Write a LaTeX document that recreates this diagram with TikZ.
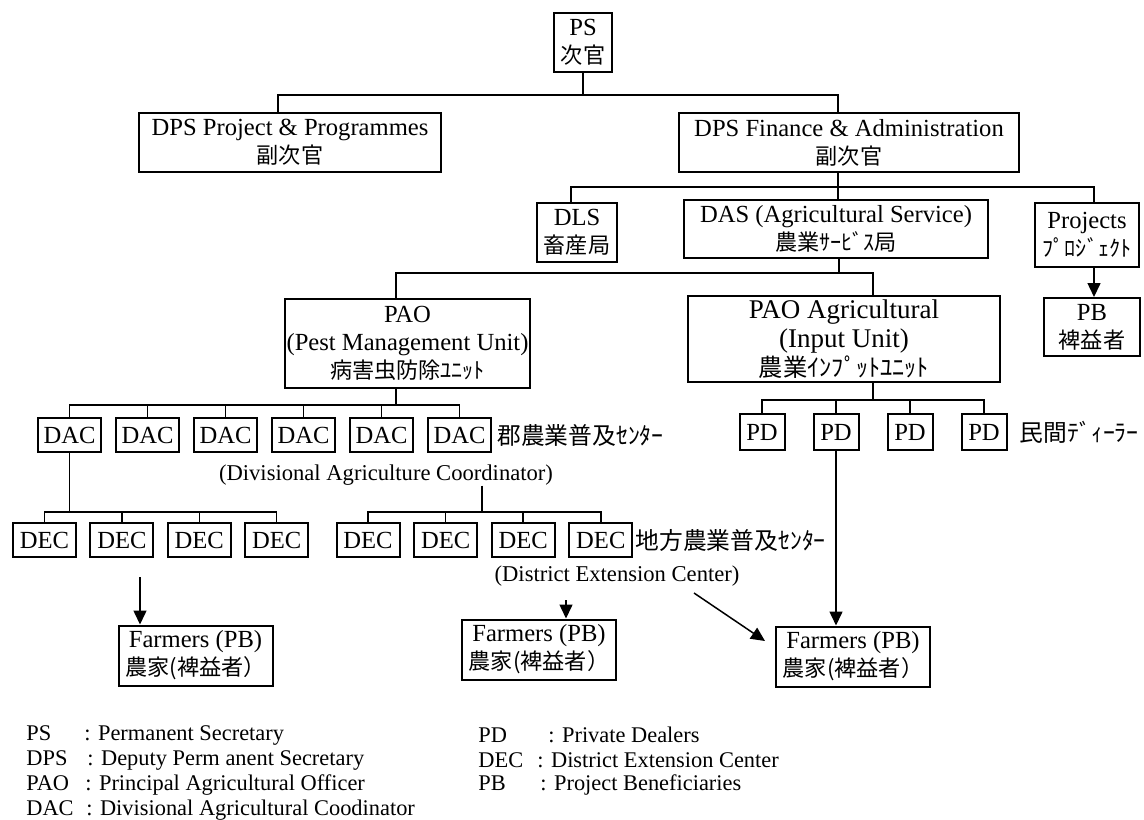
\documentclass[tikz,border=0pt]{standalone}
\usepackage{fontspec}
\setmainfont{Liberation Serif}
\newfontfamily\jp{Noto Sans CJK JP}[Scale=0.9]
\usetikzlibrary{arrows.meta,positioning}
\newcommand{\ja}[1]{{\jp #1}}
\newcommand{\boxfont}{\fontsize{12.3}{14}\selectfont}
\newcommand{\bigboxfont}{\fontsize{13.5}{14.5}\selectfont}
\newcommand{\notefont}{\fontsize{11.3}{13}\selectfont}
\newcommand{\tagfont}{\fontsize{13.2}{15}\selectfont}
\newcommand{\keyfont}{\fontsize{11.2}{12}\selectfont}
\newcommand{\keyname}[2][29pt]{\makebox[#1][l]{#2}}
\tikzset{
  >={Triangle[length=7pt,width=6.5pt]},
  every node/.style={text=black},
  box/.style={draw,line width=1pt,align=center,inner sep=1pt,font=\boxfont},
  unitbox/.style={box,minimum width=31.5pt,minimum height=17pt},
  dealerbox/.style={box,minimum width=22.5pt,minimum height=18pt},
  farmbox/.style={box,minimum width=77pt,minimum height=30pt},
  branch/.style={draw,line width=0.75pt},
  arrow/.style={->,line width=0.75pt},
  note/.style={font=\notefont,inner sep=0pt},
  sidetag/.style={font=\tagfont,inner sep=0pt,anchor=west},
  keyline/.style={font=\keyfont,inner sep=0pt,anchor=west},
}

\begin{document}
\begin{tikzpicture}[x=0.5pt,y=-0.5pt]
\useasboundingbox (0,0) rectangle (1144,819);

% Top: secretaries
\node[box,minimum width=29pt,minimum height=29.5pt] (ps) at (583,42.5) {PS\\\ja{次官}};
\node[box,minimum width=151pt,minimum height=29.5pt] (dpsp) at (290,142.5)
{DPS Project \& Programmes\\\ja{副次官}};
\node[box,minimum width=170pt,minimum height=29.5pt] (dpsf) at (849,142.5)
{DPS Finance \& Administration\\\ja{副次官}};
\coordinate (top) at (580,95);
\draw[branch] (ps.south) -- (ps.south |- top);
\draw[branch] ([xshift=-6pt]dpsp.north) |- (top) -| ([xshift=-5.5pt]dpsf.north);

% Directorates under F&A
\node[box,minimum width=40pt,minimum height=29.5pt] (dls) at (577,232.5) {DLS\\\ja{畜産局}};
\node[box,minimum width=152pt,minimum height=29pt] (das) at (836,229)
{DAS (Agricultural Service)\\\ja{農業ｻｰﾋﾞｽ局}};
\node[box,minimum width=52pt,minimum height=32pt] (proj) at (1087,235) {Projects\\\ja{ﾌﾟﾛｼﾞｪｸﾄ}};
\node[box,minimum width=48pt,minimum height=29pt] (pb) at (1092,327) {PB\\\ja{裨益者}};
\coordinate (mid) at (838,187);
\draw[branch] ([xshift=-5.5pt]dpsf.south) -- (mid);
\draw[branch] ([xshift=-3pt]dls.north) |- (mid) -| ([xshift=3.5pt]proj.north);
\draw[branch] (mid) -- (mid |- das.north);
\draw[arrow] ([xshift=3.5pt]proj.south) -- ([xshift=3.5pt]proj.south |- pb.north);

% PAO units under DAS
\node[box,minimum width=121.5pt,minimum height=44.5pt] (pao) at (407.5,343.5)
{PAO\\(Pest Management Unit)\\\ja{病害虫防除ﾕﾆｯﾄ}};
\node[box,font=\bigboxfont,minimum width=156pt,minimum height=43pt] (pag) at (844,339)
{PAO Agricultural\\(Input Unit)\\\ja{農業ｲﾝﾌﾟｯﾄﾕﾆｯﾄ}};
\coordinate (dasbar) at (839,273);
\draw[branch] (das.south -| dasbar) -- (dasbar);
\draw[branch] ([xshift=-5.75pt]pao.north) |- (dasbar) -| ([xshift=14.5pt]pag.north);

% DAC row
\node[unitbox] (dac1) at (69.5,435) {DAC};
\node[unitbox,right=6.5pt of dac1] (dac2) {DAC};
\node[unitbox,right=6.5pt of dac2] (dac3) {DAC};
\node[unitbox,right=6.5pt of dac3] (dac4) {DAC};
\node[unitbox,right=6.5pt of dac4] (dac5) {DAC};
\node[unitbox,right=6.5pt of dac5] (dac6) {DAC};
\node[sidetag,right=2.5pt of dac6] (dactag) {\ja{郡農業普及ｾﾝﾀｰ}};
\node[note] (dacnote) at (386,475) {(Divisional Agriculture Coordinator)};
\coordinate (dacbar) at (396,405);
\draw[branch] ([xshift=-5.75pt]pao.south) -- (dacbar);
\draw[branch] (dac1.north) |- (dacbar) -| (dac6.north);
\draw[branch] (dac2.north) -- (dac2.north |- dacbar);
\draw[branch] (dac3.north) -- (dac3.north |- dacbar);
\draw[branch] (dac4.north) -- (dac4.north |- dacbar);
\draw[branch] (dac5.north) -- (dac5.north |- dacbar);

% DEC rows
\node[unitbox] (dec1) at (44.5,540) {DEC};
\node[unitbox,right=6.2pt of dec1] (dec2) {DEC};
\node[unitbox,right=6.2pt of dec2] (dec3) {DEC};
\node[unitbox,right=6.2pt of dec3] (dec4) {DEC};
\node[unitbox] (dec5) at (368,540) {DEC};
\node[unitbox,right=6.3pt of dec5] (dec6) {DEC};
\node[unitbox,right=6.3pt of dec6] (dec7) {DEC};
\node[unitbox,right=6.3pt of dec7] (dec8) {DEC};
\node[sidetag,right=1pt of dec8] (dectag) {\ja{地方農業普及ｾﾝﾀｰ}};
\node[note] (decnote) at (617,576) {(District Extension Center)};
\coordinate (decbar1) at (69.5,512);
\draw[branch] (dac1.south) -- (decbar1);
\draw[branch] (dec1.north) |- (decbar1) -| (dec4.north);
\draw[branch] (dec2.north) -- (dec2.north |- decbar1);
\draw[branch] (dec3.north) -- (dec3.north |- decbar1);
\coordinate (decbar2) at (482,512);
\draw[branch] (dacnote.south -| decbar2) -- (decbar2);
\draw[branch] (dec5.north) |- (decbar2) -| (dec8.north);
\draw[branch] (dec6.north) -- (dec6.north |- decbar2);
\draw[branch] (dec7.north) -- (dec7.north |- decbar2);

% PD row
\node[dealerbox] (pd1) at (762,432) {PD};
\node[dealerbox,right=13.5pt of pd1] (pd2) {PD};
\node[dealerbox,right=13.5pt of pd2] (pd3) {PD};
\node[dealerbox,right=13.5pt of pd3] (pd4) {PD};
\node[sidetag,right=6pt of pd4] (pdtag) {\ja{民間ﾃﾞｨｰﾗｰ}};
\coordinate (pdbar) at (873,400);
\draw[branch] ([xshift=14.5pt]pag.south) -- (pdbar);
\draw[branch] (pd1.north) |- (pdbar) -| (pd4.north);
\draw[branch] (pd2.north) -- (pd2.north |- pdbar);
\draw[branch] (pd3.north) -- (pd3.north |- pdbar);

% Farmers
\node[farmbox] (farm1) at (195.5,655.5) {Farmers (PB)\\\ja{農家(裨益者）}};
\node[farmbox] (farm2) at (539,649.5) {Farmers (PB)\\\ja{農家(裨益者）}};
\node[farmbox] (farm3) at (853,656.5) {Farmers (PB)\\\ja{農家(裨益者）}};
\coordinate (fleft) at (140,577);
\coordinate (fmid) at (566,600);
\coordinate (fright) at (694,593);
\coordinate (frightend) at (765,641);
\draw[arrow] (fleft) -- (fleft |- farm1.north);
\draw[arrow] (fmid) -- (fmid |- farm2.north);
\draw[arrow] (fright) -- (frightend);
\draw[arrow] (pd2.south) -- (pd2.south |- farm3.north);

% Key
\node[keyline] (k1) at (26,735) {\keyname{PS}: Permanent Secretary};
\node[keyline] (k2) at (26,760) {\keyname[30.5pt]{DPS}: Deputy Perm anent Secretary};
\node[keyline] (k3) at (26,785) {\keyname[29.5pt]{PAO}: Principal Agricultural Officer};
\node[keyline] (k4) at (26,810) {\keyname[30pt]{DAC}: Divisional Agricultural Coodinator};
\node[keyline] (k5) at (478,735) {\keyname[35pt]{PD}: Private Dealers};
\node[keyline] (k6) at (478,760) {\keyname[29.5pt]{DEC}: District Extension Center};
\node[keyline] (k7) at (478,785) {\keyname[31pt]{PB}: Project Beneficiaries};

\end{tikzpicture}
\end{document}
